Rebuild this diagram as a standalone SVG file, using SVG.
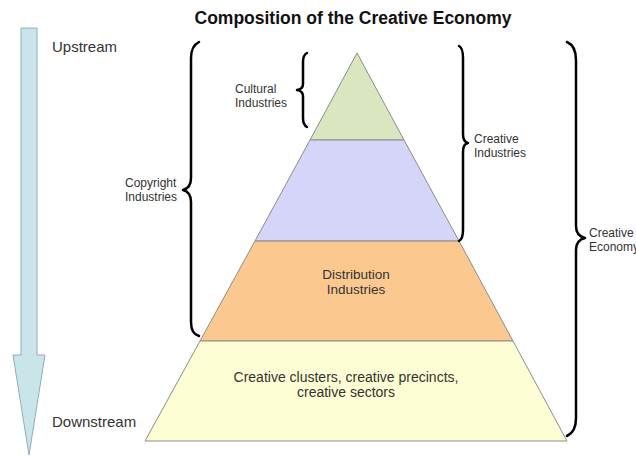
<svg xmlns="http://www.w3.org/2000/svg" width="636" height="456" viewBox="0 0 636 456">
<defs>
<style>
.t{font-family:"Liberation Sans",Arial,sans-serif;fill:#333}
.lbl{font-size:12px}
.big{font-size:15px}
.layer{stroke:#8c8c8c;stroke-width:1}
.brace{fill:none;stroke:#000;stroke-width:2.5;stroke-linecap:round;stroke-linejoin:round}
</style>
</defs>
<rect width="636" height="456" fill="#fff"/>
<text class="t" x="353" y="24" text-anchor="middle" style="font-size:17.5px;font-weight:bold;fill:#111">Composition of the Creative Economy</text>

<g id="flow-arrow">
<polygon points="21,28 37,28 37,355 45,355 29,455 13,355 21,355" fill="#c9e5ea" stroke="#8fb0b5" stroke-width="1"/>
<text class="t big" x="52" y="52">Upstream</text>
<text class="t big" x="52" y="427">Downstream</text>
</g>

<g id="pyramid">
<g id="layer-cultural"><polygon class="layer" points="357,53 404,140 310,140" fill="#d9e6c0"/></g>
<g id="layer-creative"><polygon class="layer" points="310,140 404,140 459,241 255,241" fill="#d5d5f9"/></g>
<g id="layer-distribution"><polygon class="layer" points="255,241 459,241 513,341 200,341" fill="#fbc990"/>
<text class="t" x="356" y="279" text-anchor="middle" style="font-size:13.5px">Distribution</text>
<text class="t" x="356" y="294" text-anchor="middle" style="font-size:13.5px">Industries</text></g>
<g id="layer-clusters"><polygon class="layer" points="200,341 513,341 567,441 145,441" fill="#fefed4"/>
<text class="t" x="346" y="382" text-anchor="middle" style="font-size:14px">Creative clusters, creative precincts,</text>
<text class="t" x="346" y="397" text-anchor="middle" style="font-size:14px">creative sectors</text></g>
</g>

<g id="connectors">
<path class="brace" d="M307,53 Q303,55 303,62 L303,84 Q303,89 297,90 Q303,91 303,96 L303,118 Q303,125 307,127"/>
<path class="brace" d="M199,42 Q191,46 191,58 L191,178 Q191,188 183,190 Q191,192 191,202 L191,322 Q191,334 199,336"/>
<path class="brace" d="M459,46 Q463,48 463,58 L463,134 Q463,142 468,143 Q463,144 463,152 L463,230 Q463,239 459,241"/>
<path class="brace" d="M567,42 Q576,46 576,60 L576,226 Q576,236 585,238 Q576,240 576,250 L576,418 Q576,432 567,436"/>
</g>

<g id="label-cultural"><text class="t lbl" x="235" y="93">Cultural</text><text class="t lbl" x="235" y="107">Industries</text></g>
<g id="label-copyright"><text class="t lbl" x="125" y="187">Copyright</text><text class="t lbl" x="125" y="201">Industries</text></g>
<g id="label-creative"><text class="t lbl" x="474" y="143">Creative</text><text class="t lbl" x="474" y="157">Industries</text></g>
<g id="label-economy"><text class="t lbl" x="589" y="237">Creative</text><text class="t lbl" x="589" y="251">Economy</text></g>
</svg>
